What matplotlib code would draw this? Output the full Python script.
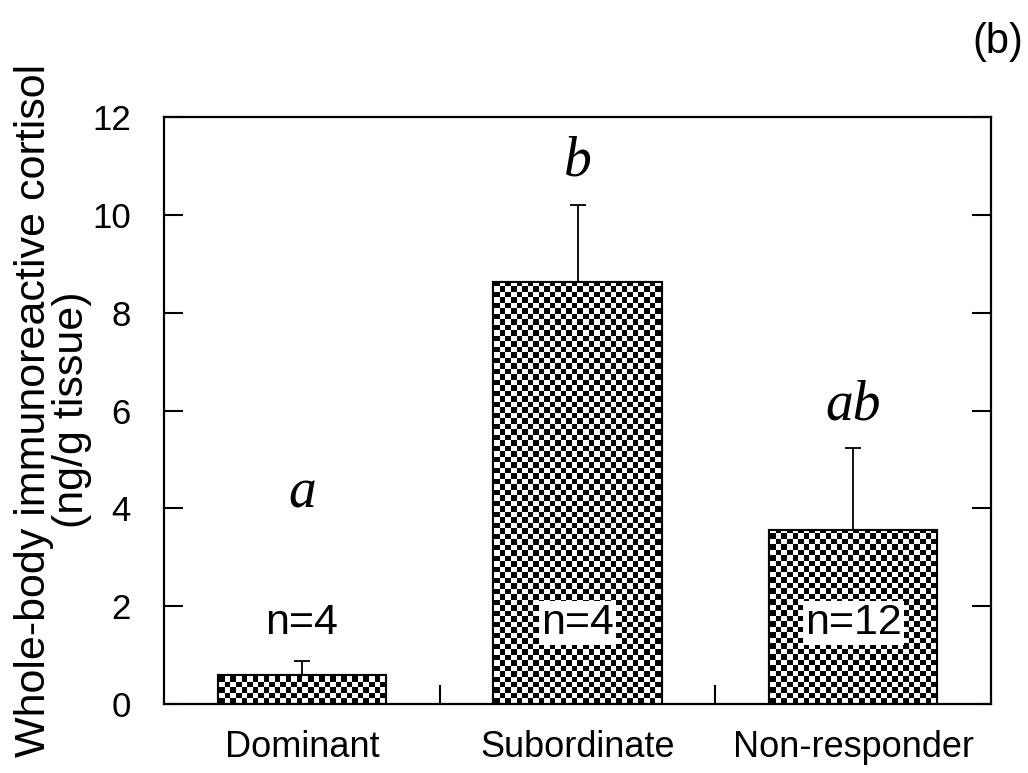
import matplotlib.pyplot as plt
import numpy as np

# data
groups = ['Dominant', 'Subordinate', 'Non-responder']
means = [0.6, 8.63, 3.56]
errors = [0.28, 1.57, 1.68]
sig_letters = ['a', 'b', 'ab']
letter_y = [4.3, 11.1, 6.1]
n_labels = ['n=4', 'n=4', 'n=12']
n_y = 1.65

plt.rcParams['font.family'] = ['Liberation Sans', 'DejaVu Sans']

fig = plt.figure(figsize=(10.28, 7.73), dpi=100)
ax = fig.add_axes([164 / 1028, 1 - 704 / 773, 827 / 1028, 587 / 773])

x = np.arange(len(groups))
bars = ax.bar(x, means, width=0.61, facecolor='white', edgecolor='black',
              linewidth=1.5, zorder=2)
ax.errorbar(x, means, yerr=[np.zeros(len(errors)), errors], fmt='none',
            ecolor='black', elinewidth=1.3, capsize=6, capthick=1.3, zorder=1)

ax.set_xlim(-0.5, 2.5)
ax.set_ylim(0, 12)

# checkerboard fill clipped to each bar
nx, ny = 150, 107
checker = (np.add.outer(np.arange(ny), np.arange(nx)) % 2).astype(float)
for b in bars:
    im = ax.imshow(checker, cmap='gray', extent=(-0.5, 2.5, 0, 12),
                   aspect='auto', interpolation='nearest', zorder=2.5)
    im.set_clip_path(b)
    # redraw edge on top
    ax.bar(b.get_x() + b.get_width() / 2, b.get_height(), width=b.get_width(),
           facecolor='none', edgecolor='black', linewidth=1.5, zorder=3)

for xi, s, ly in zip(x, sig_letters, letter_y):
    ax.text(xi, ly, s, ha='center', va='center', fontsize=40,
            family='Liberation Serif', style='italic')

for xi, s in zip(x, n_labels):
    ax.text(xi, n_y, s, ha='center', va='center', fontsize=31, zorder=4,
            bbox=dict(facecolor='white', edgecolor='none', pad=1.5))

ax.set_xticks(x)
ax.set_xticklabels(groups, fontsize=26)
ax.set_xticks([0.5, 1.5], minor=True)
ax.tick_params(axis='x', which='major', length=0, pad=19)
ax.tick_params(axis='x', which='minor', direction='in', length=14, width=1.5)
ax.set_yticks(np.arange(0, 13, 2))
ax.tick_params(axis='y', direction='in', length=14, width=1.5, labelsize=25,
               right=True, pad=24)
for sp in ax.spines.values():
    sp.set_linewidth(1.6)

fig.text(53 / 1028, 1 - 410 / 773,
         'Whole-body immunoreactive cortisol\n(ng/g tissue)', fontsize=31,
         rotation=90, ha='center', va='center', linespacing=0.93)

fig.text(998 / 1028, 1 - 42 / 773, '(b)', fontsize=30, ha='center', va='center')

fig.savefig('out.png', dpi=100)
